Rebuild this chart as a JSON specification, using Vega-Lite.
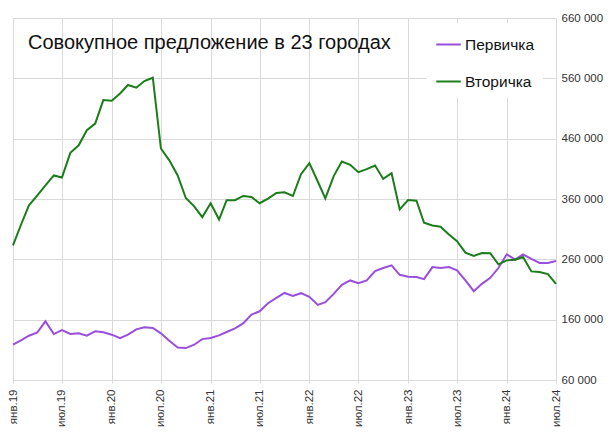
{
  "$schema": "https://vega.github.io/schema/vega-lite/v6.json",
  "width": 543,
  "height": 362,
  "autosize": {"type": "none"},
  "padding": {"left": 13, "top": 18, "right": 59, "bottom": 57},
  "background": "white",
  "config": {
    "view": {"stroke": null},
    "font": "Liberation Sans",
    "locale": {
      "number": {"decimal": ",", "thousands": " ", "grouping": [3], "currency": ["", ""]},
      "time": {
        "dateTime": "%A, %e %B %Y г. %X",
        "date": "%d.%m.%Y",
        "time": "%H:%M:%S",
        "periods": ["AM", "PM"],
        "days": ["воскресенье", "понедельник", "вторник", "среда", "четверг", "пятница", "суббота"],
        "shortDays": ["вс", "пн", "вт", "ср", "чт", "пт", "сб"],
        "months": ["января", "февраля", "марта", "апреля", "мая", "июня", "июля", "августа", "сентября", "октября", "ноября", "декабря"],
        "shortMonths": ["янв", "фев", "мар", "апр", "май", "июн", "июл", "авг", "сен", "окт", "ноя", "дек"]
      }
    }
  },
  "title": {
    "text": "Совокупное предложение в 23 городах",
    "anchor": "start",
    "frame": "group",
    "orient": "top",
    "fontSize": 20,
    "fontWeight": "normal",
    "font": "Liberation Sans",
    "color": "#111111",
    "baseline": "middle",
    "dx": 15,
    "dy": 51,
    "offset": 0
  },
  "data": {
    "values": [
      {"date": "2019-01-01T00:00:00", "series": "Первичка", "value": 118500},
      {"date": "2019-02-01T00:00:00", "series": "Первичка", "value": 126200},
      {"date": "2019-03-01T00:00:00", "series": "Первичка", "value": 133400},
      {"date": "2019-04-01T00:00:00", "series": "Первичка", "value": 139000},
      {"date": "2019-05-01T00:00:00", "series": "Первичка", "value": 157200},
      {"date": "2019-06-01T00:00:00", "series": "Первичка", "value": 136200},
      {"date": "2019-07-01T00:00:00", "series": "Первичка", "value": 142800},
      {"date": "2019-08-01T00:00:00", "series": "Первичка", "value": 136200},
      {"date": "2019-09-01T00:00:00", "series": "Первичка", "value": 137300},
      {"date": "2019-10-01T00:00:00", "series": "Первичка", "value": 133400},
      {"date": "2019-11-01T00:00:00", "series": "Первичка", "value": 140600},
      {"date": "2019-12-01T00:00:00", "series": "Первичка", "value": 139000},
      {"date": "2020-01-01T00:00:00", "series": "Первичка", "value": 135100},
      {"date": "2020-02-01T00:00:00", "series": "Первичка", "value": 129500},
      {"date": "2020-03-01T00:00:00", "series": "Первичка", "value": 135100},
      {"date": "2020-04-01T00:00:00", "series": "Первичка", "value": 143900},
      {"date": "2020-05-01T00:00:00", "series": "Первичка", "value": 147300},
      {"date": "2020-06-01T00:00:00", "series": "Первичка", "value": 146200},
      {"date": "2020-07-01T00:00:00", "series": "Первичка", "value": 137300},
      {"date": "2020-08-01T00:00:00", "series": "Первичка", "value": 125100},
      {"date": "2020-09-01T00:00:00", "series": "Первичка", "value": 114000},
      {"date": "2020-10-01T00:00:00", "series": "Первичка", "value": 112900},
      {"date": "2020-11-01T00:00:00", "series": "Первичка", "value": 118500},
      {"date": "2020-12-01T00:00:00", "series": "Первичка", "value": 127800},
      {"date": "2021-01-01T00:00:00", "series": "Первичка", "value": 129500},
      {"date": "2021-02-01T00:00:00", "series": "Первичка", "value": 133900},
      {"date": "2021-03-01T00:00:00", "series": "Первичка", "value": 139500},
      {"date": "2021-04-01T00:00:00", "series": "Первичка", "value": 145600},
      {"date": "2021-05-01T00:00:00", "series": "Первичка", "value": 153900},
      {"date": "2021-06-01T00:00:00", "series": "Первичка", "value": 168300},
      {"date": "2021-07-01T00:00:00", "series": "Первичка", "value": 173900},
      {"date": "2021-08-01T00:00:00", "series": "Первичка", "value": 187300},
      {"date": "2021-09-01T00:00:00", "series": "Первичка", "value": 196000},
      {"date": "2021-10-01T00:00:00", "series": "Первичка", "value": 204300},
      {"date": "2021-11-01T00:00:00", "series": "Первичка", "value": 199400},
      {"date": "2021-12-01T00:00:00", "series": "Первичка", "value": 203900},
      {"date": "2022-01-01T00:00:00", "series": "Первичка", "value": 198000},
      {"date": "2022-02-01T00:00:00", "series": "Первичка", "value": 184400},
      {"date": "2022-03-01T00:00:00", "series": "Первичка", "value": 188900},
      {"date": "2022-04-01T00:00:00", "series": "Первичка", "value": 202800},
      {"date": "2022-05-01T00:00:00", "series": "Первичка", "value": 217800},
      {"date": "2022-06-01T00:00:00", "series": "Первичка", "value": 225000},
      {"date": "2022-07-01T00:00:00", "series": "Первичка", "value": 220600},
      {"date": "2022-08-01T00:00:00", "series": "Первичка", "value": 225000},
      {"date": "2022-09-01T00:00:00", "series": "Первичка", "value": 240600},
      {"date": "2022-10-01T00:00:00", "series": "Первичка", "value": 245600},
      {"date": "2022-11-01T00:00:00", "series": "Первичка", "value": 250000},
      {"date": "2022-12-01T00:00:00", "series": "Первичка", "value": 234400},
      {"date": "2023-01-01T00:00:00", "series": "Первичка", "value": 231100},
      {"date": "2023-02-01T00:00:00", "series": "Первичка", "value": 230600},
      {"date": "2023-03-01T00:00:00", "series": "Первичка", "value": 227200},
      {"date": "2023-04-01T00:00:00", "series": "Первичка", "value": 247200},
      {"date": "2023-05-01T00:00:00", "series": "Первичка", "value": 245600},
      {"date": "2023-06-01T00:00:00", "series": "Первичка", "value": 247200},
      {"date": "2023-07-01T00:00:00", "series": "Первичка", "value": 241700},
      {"date": "2023-08-01T00:00:00", "series": "Первичка", "value": 225000},
      {"date": "2023-09-01T00:00:00", "series": "Первичка", "value": 207200},
      {"date": "2023-10-01T00:00:00", "series": "Первичка", "value": 219400},
      {"date": "2023-11-01T00:00:00", "series": "Первичка", "value": 229400},
      {"date": "2023-12-01T00:00:00", "series": "Первичка", "value": 245600},
      {"date": "2024-01-01T00:00:00", "series": "Первичка", "value": 268300},
      {"date": "2024-02-01T00:00:00", "series": "Первичка", "value": 259400},
      {"date": "2024-03-01T00:00:00", "series": "Первичка", "value": 268300},
      {"date": "2024-04-01T00:00:00", "series": "Первичка", "value": 260600},
      {"date": "2024-05-01T00:00:00", "series": "Первичка", "value": 253900},
      {"date": "2024-06-01T00:00:00", "series": "Первичка", "value": 253900},
      {"date": "2024-07-01T00:00:00", "series": "Первичка", "value": 257200},
      {"date": "2019-01-01T00:00:00", "series": "Вторичка", "value": 283000},
      {"date": "2019-02-01T00:00:00", "series": "Вторичка", "value": 319000},
      {"date": "2019-03-01T00:00:00", "series": "Вторичка", "value": 349500},
      {"date": "2019-04-01T00:00:00", "series": "Вторичка", "value": 366000},
      {"date": "2019-05-01T00:00:00", "series": "Вторичка", "value": 382700},
      {"date": "2019-06-01T00:00:00", "series": "Вторичка", "value": 399000},
      {"date": "2019-07-01T00:00:00", "series": "Вторичка", "value": 395500},
      {"date": "2019-08-01T00:00:00", "series": "Вторичка", "value": 436500},
      {"date": "2019-09-01T00:00:00", "series": "Вторичка", "value": 449000},
      {"date": "2019-10-01T00:00:00", "series": "Вторичка", "value": 474000},
      {"date": "2019-11-01T00:00:00", "series": "Вторичка", "value": 485000},
      {"date": "2019-12-01T00:00:00", "series": "Вторичка", "value": 524000},
      {"date": "2020-01-01T00:00:00", "series": "Вторичка", "value": 523000},
      {"date": "2020-02-01T00:00:00", "series": "Вторичка", "value": 535000},
      {"date": "2020-03-01T00:00:00", "series": "Вторичка", "value": 549000},
      {"date": "2020-04-01T00:00:00", "series": "Вторичка", "value": 544500},
      {"date": "2020-05-01T00:00:00", "series": "Вторичка", "value": 555500},
      {"date": "2020-06-01T00:00:00", "series": "Вторичка", "value": 561000},
      {"date": "2020-07-01T00:00:00", "series": "Вторичка", "value": 443700},
      {"date": "2020-08-01T00:00:00", "series": "Вторичка", "value": 424000},
      {"date": "2020-09-01T00:00:00", "series": "Вторичка", "value": 399000},
      {"date": "2020-10-01T00:00:00", "series": "Вторичка", "value": 361700},
      {"date": "2020-11-01T00:00:00", "series": "Вторичка", "value": 347800},
      {"date": "2020-12-01T00:00:00", "series": "Вторичка", "value": 330000},
      {"date": "2021-01-01T00:00:00", "series": "Вторичка", "value": 353000},
      {"date": "2021-02-01T00:00:00", "series": "Вторичка", "value": 326000},
      {"date": "2021-03-01T00:00:00", "series": "Вторичка", "value": 358000},
      {"date": "2021-04-01T00:00:00", "series": "Вторичка", "value": 358000},
      {"date": "2021-05-01T00:00:00", "series": "Вторичка", "value": 365000},
      {"date": "2021-06-01T00:00:00", "series": "Вторичка", "value": 363300},
      {"date": "2021-07-01T00:00:00", "series": "Вторичка", "value": 353000},
      {"date": "2021-08-01T00:00:00", "series": "Вторичка", "value": 360500},
      {"date": "2021-09-01T00:00:00", "series": "Вторичка", "value": 370000},
      {"date": "2021-10-01T00:00:00", "series": "Вторичка", "value": 371000},
      {"date": "2021-11-01T00:00:00", "series": "Вторичка", "value": 365000},
      {"date": "2021-12-01T00:00:00", "series": "Вторичка", "value": 401000},
      {"date": "2022-01-01T00:00:00", "series": "Вторичка", "value": 419500},
      {"date": "2022-02-01T00:00:00", "series": "Вторичка", "value": 389000},
      {"date": "2022-03-01T00:00:00", "series": "Вторичка", "value": 361000},
      {"date": "2022-04-01T00:00:00", "series": "Вторичка", "value": 398000},
      {"date": "2022-05-01T00:00:00", "series": "Вторичка", "value": 422000},
      {"date": "2022-06-01T00:00:00", "series": "Вторичка", "value": 416700},
      {"date": "2022-07-01T00:00:00", "series": "Вторичка", "value": 404400},
      {"date": "2022-08-01T00:00:00", "series": "Вторичка", "value": 409400},
      {"date": "2022-09-01T00:00:00", "series": "Вторичка", "value": 415500},
      {"date": "2022-10-01T00:00:00", "series": "Вторичка", "value": 393300},
      {"date": "2022-11-01T00:00:00", "series": "Вторичка", "value": 402800},
      {"date": "2022-12-01T00:00:00", "series": "Вторичка", "value": 342800},
      {"date": "2023-01-01T00:00:00", "series": "Вторичка", "value": 358300},
      {"date": "2023-02-01T00:00:00", "series": "Вторичка", "value": 357200},
      {"date": "2023-03-01T00:00:00", "series": "Вторичка", "value": 320600},
      {"date": "2023-04-01T00:00:00", "series": "Вторичка", "value": 316100},
      {"date": "2023-05-01T00:00:00", "series": "Вторичка", "value": 314000},
      {"date": "2023-06-01T00:00:00", "series": "Вторичка", "value": 301000},
      {"date": "2023-07-01T00:00:00", "series": "Вторичка", "value": 290000},
      {"date": "2023-08-01T00:00:00", "series": "Вторичка", "value": 271000},
      {"date": "2023-09-01T00:00:00", "series": "Вторичка", "value": 265600},
      {"date": "2023-10-01T00:00:00", "series": "Вторичка", "value": 270600},
      {"date": "2023-11-01T00:00:00", "series": "Вторичка", "value": 270000},
      {"date": "2023-12-01T00:00:00", "series": "Вторичка", "value": 251700},
      {"date": "2024-01-01T00:00:00", "series": "Вторичка", "value": 258300},
      {"date": "2024-02-01T00:00:00", "series": "Вторичка", "value": 259400},
      {"date": "2024-03-01T00:00:00", "series": "Вторичка", "value": 263900},
      {"date": "2024-04-01T00:00:00", "series": "Вторичка", "value": 240000},
      {"date": "2024-05-01T00:00:00", "series": "Вторичка", "value": 238900},
      {"date": "2024-06-01T00:00:00", "series": "Вторичка", "value": 235600},
      {"date": "2024-07-01T00:00:00", "series": "Вторичка", "value": 219400}
    ]
  },
  "mark": {"type": "line", "strokeWidth": 2, "interpolate": "linear"},
  "encoding": {
    "x": {
      "field": "date",
      "type": "temporal",
      "scale": {"domain": [{"year": 2019, "month": 1, "date": 1}, {"year": 2024, "month": 7, "date": 1}], "nice": false},
      "axis": {
        "title": null,
        "tickCount": {"interval": "month", "step": 6},
        "format": "%b.%y",
        "labelAngle": -90,
        "labelAlign": "right",
        "labelBaseline": "middle",
        "labelFontSize": 11.5,
        "labelColor": "#333333",
        "labelPadding": 6,
        "labelFlush": false,
        "labelOverlap": false,
        "domain": false,
        "ticks": true,
        "tickSize": 3,
        "tickColor": "#d9d9d9",
        "grid": true,
        "gridColor": "#d9d9d9",
        "gridWidth": 1
      }
    },
    "y": {
      "field": "value",
      "type": "quantitative",
      "scale": {"domain": [60000, 660000], "nice": false, "zero": false},
      "axis": {
        "title": null,
        "orient": "right",
        "values": [60000, 160000, 260000, 360000, 460000, 560000, 660000],
        "format": ",d",
        "labelFontSize": 11.5,
        "labelColor": "#333333",
        "labelPadding": 5,
        "labelFlush": false,
        "domain": false,
        "ticks": false,
        "grid": true,
        "gridColor": "#d9d9d9",
        "gridWidth": 1
      }
    },
    "color": {
      "field": "series",
      "type": "nominal",
      "scale": {"domain": ["Первичка", "Вторичка"], "range": ["#9a4fdc", "#1a7d1a"]},
      "legend": {
        "title": null,
        "orient": "none",
        "legendX": 414,
        "legendY": 5,
        "direction": "vertical",
        "fillColor": "white",
        "padding": 8,
        "symbolType": "stroke",
        "symbolSize": 600,
        "symbolStrokeWidth": 2,
        "labelFontSize": 15.5,
        "labelColor": "#111111",
        "labelOffset": 3,
        "rowPadding": 15,
        "labelFont": "Liberation Sans"
      }
    }
  }
}
